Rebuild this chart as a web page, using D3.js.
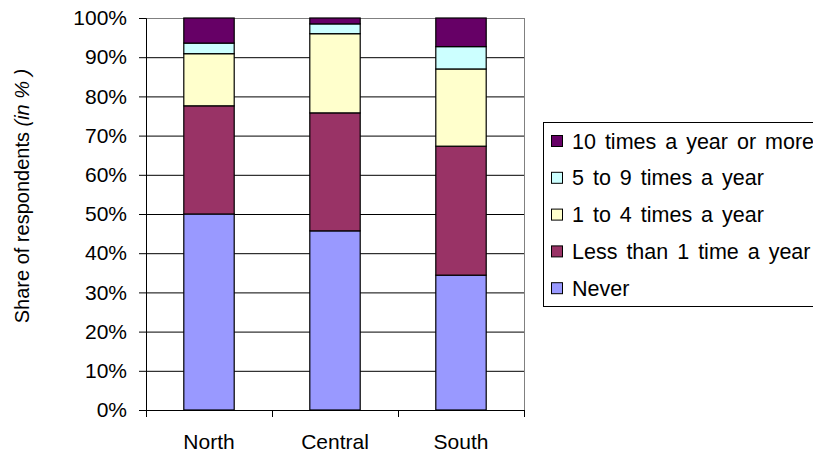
<!DOCTYPE html>
<html>
<head>
<meta charset="utf-8">
<script src="https://cdn.jsdelivr.net/npm/d3@7"></script>
<style>
  body { margin: 0; background: #fff; }
  text { font-family: Arial, "Liberation Sans", sans-serif; }
</style>
</head>
<body>
<div id="chart"></div>
<script>
// regions along the x axis
const regions = ["North", "Central", "South"]
// series, bottom of the stack first
const seriesNames = ["Never", "Less than 1 time a year", "1 to 4 times a year", "5 to 9 times a year", "10 times a year or more"]
const never = [50.0, 45.7, 34.4]
const lessThanOnce = [27.6, 30.1, 32.9]
const oneToFour = [13.3, 20.2, 19.7]
const fiveToNine = [2.7, 2.5, 5.7]
const tenOrMore = [6.4, 1.5, 7.3]
const seriesColors = ["#9999ff", "#993366", "#ffffcc", "#ccffff", "#660066"]
const yTicks = [0, 10, 20, 30, 40, 50, 60, 70, 80, 90, 100]

const width = 813
const height = 454
const margin = {top: 18, right: 289, bottom: 44, left: 146}
const plotW = width - margin.left - margin.right
const plotH = height - margin.top - margin.bottom

// build rows for d3.stack
const seriesValues = [never, lessThanOnce, oneToFour, fiveToNine, tenOrMore]
const rows = regions.map((r, i) => {
  const row = {region: r}
  seriesNames.forEach((s, j) => { row[s] = seriesValues[j][i] })
  return row
})
const stacked = d3.stack().keys(seriesNames)(rows)

const svg = d3.select("#chart")
  .append("svg")
  .attr("width", width)
  .attr("height", height)

const xScale = d3.scaleBand().domain(regions).range([0, plotW])
  .paddingInner(0.6).paddingOuter(0.3)
const yScale = d3.scaleLinear().domain([0, 100]).range([plotH, 0])
const color = d3.scaleOrdinal().domain(seriesNames).range(seriesColors)

const g = svg.append("g")
  .attr("transform", `translate(${margin.left},${margin.top})`)

// gridlines
g.append("g")
  .selectAll("line")
  .data(yTicks.filter(t => t > 0))
  .enter()
  .append("line")
  .attr("x1", 0)
  .attr("x2", plotW)
  .attr("y1", d => yScale(d) + 0.5)
  .attr("y2", d => yScale(d) + 0.5)
  .style("stroke", d => d === 100 ? "#808080" : "#000")
  .style("stroke-width", 1)

// right border of plot area
g.append("line")
  .attr("x1", plotW + 0.5).attr("x2", plotW + 0.5)
  .attr("y1", 0).attr("y2", plotH)
  .style("stroke", "#808080")

// stacked bars
g.selectAll("g.layer")
  .data(stacked)
  .enter()
  .append("g")
  .attr("class", "layer")
  .attr("fill", d => color(d.key))
  .selectAll("rect")
  .data(d => d)
  .enter()
  .append("rect")
  .attr("x", d => xScale(d.data.region))
  .attr("y", d => yScale(d[1]))
  .attr("width", xScale.bandwidth())
  .attr("height", d => yScale(d[0]) - yScale(d[1]))
  .style("stroke", "#000")
  .style("stroke-width", 1.2)

// left axis
const yAxis = g.append("g")
  .call(d3.axisLeft(yScale).tickValues(yTicks).tickFormat(d => d + "%").tickSize(7).tickPadding(12))
yAxis.select(".domain").attr("stroke", "#000")
yAxis.selectAll("text").style("font-size", "21px").attr("fill", "#000")
yAxis.selectAll(".tick line").attr("stroke", "#000")

// bottom axis: ticks sit between the categories
const xAxisG = g.append("g").attr("transform", `translate(0,${plotH})`)
xAxisG.append("line")
  .attr("x1", 0).attr("x2", plotW)
  .attr("y1", 0.5).attr("y2", 0.5)
  .style("stroke", "#000")
const step = xScale.step()
const boundaries = [0].concat(regions.map(r => xScale(r) + xScale.bandwidth() / 2 + step / 2))
xAxisG.selectAll("line.tick")
  .data(boundaries)
  .enter()
  .append("line")
  .attr("class", "tick")
  .attr("x1", d => d + 0.5).attr("x2", d => d + 0.5)
  .attr("y1", 0).attr("y2", 7)
  .style("stroke", "#000")
xAxisG.selectAll("text")
  .data(regions)
  .enter()
  .append("text")
  .attr("x", d => xScale(d) + xScale.bandwidth() / 2)
  .attr("y", 39)
  .attr("text-anchor", "middle")
  .style("font-size", "21px")
  .text(d => d)

// Y label
const yLabel = svg.append("text")
  .attr("text-anchor", "middle")
  .attr("transform", `translate(29,${margin.top + plotH / 2 - 18})rotate(-90)`)
  .style("font-size", "20px")
yLabel.append("tspan").text("Share of respondents ")
yLabel.append("tspan").style("font-style", "italic").text("(in % )")

// legend
const legendItems = seriesNames.slice().reverse()
const legend = svg.append("g").attr("transform", "translate(543,122)")
legend.append("rect")
  .attr("x", 0.5).attr("y", 0.5)
  .attr("width", 300).attr("height", 184)
  .style("fill", "#fff")
  .style("stroke", "#000")
const items = legend.selectAll("g.item")
  .data(legendItems)
  .enter()
  .append("g")
  .attr("class", "item")
  .attr("transform", (d, i) => `translate(0,${19 + i * 36.8})`)
items.append("rect")
  .attr("x", 8.5).attr("y", -5.5)
  .attr("width", 11).attr("height", 11)
  .style("fill", d => color(d))
  .style("stroke", "#000")
items.append("text")
  .attr("x", 29)
  .attr("y", 7.5)
  .style("font-size", "21.5px")
  .style("word-spacing", "3px")
  .text(d => d)
</script>
</body>
</html>
